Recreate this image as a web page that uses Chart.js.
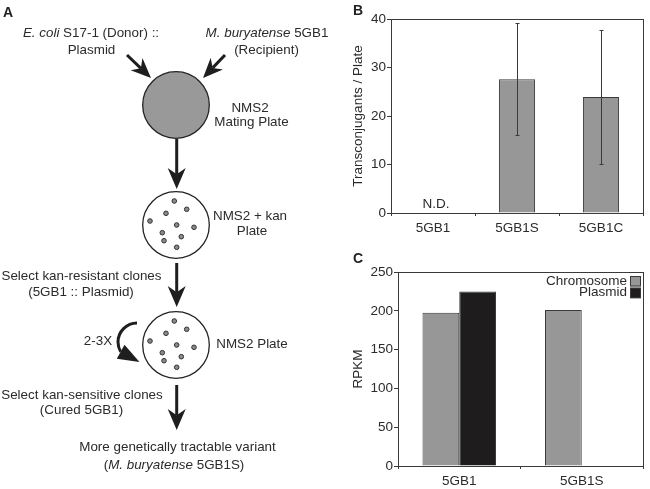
<!DOCTYPE html>
<html>
<head>
<meta charset="utf-8">
<script src="https://cdn.jsdelivr.net/npm/chart.js@4/dist/chart.umd.min.js"></script>
<style>
  html, body { margin: 0; padding: 0; background: #fff; }
  #page { position: relative; width: 650px; height: 489px; overflow: hidden; }
  #page canvas { position: absolute; }
  .panel {
    position: absolute;
    font: bold 14px "Liberation Sans", Arial, sans-serif;
    line-height: 14px;
    color: #222;
  }
</style>
</head>
<body>
<div id="page">
  <canvas id="scheme" width="330" height="489" style="left:0;top:0"></canvas>
  <canvas id="chartB" width="320" height="240" style="left:330px;top:0"></canvas>
  <canvas id="chartC" width="320" height="244" style="left:330px;top:245px"></canvas>
  <div class="panel" style="left:3px;top:5px">A</div>
  <div class="panel" style="left:353px;top:3px">B</div>
  <div class="panel" style="left:353px;top:251px">C</div>
</div>

<script>
// ------------------------------------------------------------
// Données
// ------------------------------------------------------------
// B : transconjugants par boîte
const bCategories = ['5GB1', '5GB1S', '5GB1C'];
const bMeans      = [null, 27.6, 23.9];   // 5GB1 : non détecté
const bErrors     = [null, 11.6, 13.8];
const bNotes      = ['N.D.', '', ''];
const bTicks      = [0, 10, 20, 30, 40];

// C : RPKM chromosome / plasmide
const cCategories = ['5GB1', '5GB1S'];
const cChromosome = [197.5, 201];
const cPlasmid    = [225, 0];
const cTicks      = [0, 50, 100, 150, 200, 250];

const INK  = '#2b2b2b';
const LINE = '#3a3a3a';
const FAMILY = '"Liberation Sans", Arial, sans-serif';

Chart.defaults.font.family = FAMILY;
Chart.defaults.font.size   = 13.5;
Chart.defaults.color       = INK;

// ------------------------------------------------------------
// Plugins communs
// ------------------------------------------------------------
const framePlugin = {
  id: 'frame',
  afterDraw(chart) {
    const { ctx, chartArea: a } = chart;
    ctx.save();
    ctx.strokeStyle = LINE;
    ctx.lineWidth = 1;
    ctx.strokeRect(Math.round(a.left) + 0.5, Math.round(a.top) + 0.5,
      Math.round(a.right - a.left), Math.round(a.bottom - a.top));
    ctx.restore();
  },
};

const errorBarPlugin = {
  id: 'errorBars',
  afterDatasetsDraw(chart) {
    const ctx  = chart.ctx;
    const y    = chart.scales.y;
    const meta = chart.getDatasetMeta(0);
    ctx.save();
    ctx.strokeStyle = LINE;
    ctx.lineWidth = 1;
    meta.data.forEach((bar, i) => {
      if (bMeans[i] == null) return;
      const top = Math.round(y.getPixelForValue(bMeans[i] + bErrors[i])) + 0.5;
      const bot = Math.round(y.getPixelForValue(bMeans[i] - bErrors[i])) + 0.5;
      const x   = Math.round(bar.x) + 0.5;
      ctx.beginPath();
      ctx.moveTo(x, top); ctx.lineTo(x, bot);
      ctx.moveTo(x - 2, top); ctx.lineTo(x + 2, top);
      ctx.moveTo(x - 2, bot); ctx.lineTo(x + 2, bot);
      ctx.stroke();
    });
    ctx.restore();
  },
};

const notesPlugin = {
  id: 'notes',
  afterDatasetsDraw(chart) {
    const ctx = chart.ctx;
    const x = chart.scales.x;
    const y = chart.scales.y;
    ctx.save();
    ctx.font = '13.5px ' + FAMILY;
    ctx.fillStyle = INK;
    ctx.textAlign = 'center';
    ctx.textBaseline = 'alphabetic';
    bNotes.forEach((txt, i) => {
      if (!txt) return;
      ctx.fillText(txt, x.getPixelForValue(i) + 3, y.getPixelForValue(0) - 5);
    });
    ctx.restore();
  },
};

// Légende dans le cadre, texte à gauche de la case
const insideLegendPlugin = {
  id: 'insideLegend',
  afterDraw(chart) {
    const { ctx, chartArea: a } = chart;
    ctx.save();
    ctx.font = '13.5px ' + FAMILY;
    ctx.textAlign = 'right';
    ctx.textBaseline = 'middle';
    chart.data.datasets.forEach((ds, i) => {
      const bx = Math.round(a.right) - 13;
      const by = Math.round(a.top) + 4 + i * 11.7;
      ctx.fillStyle = ds.backgroundColor;
      ctx.fillRect(bx, by, 11, 10.5);
      ctx.strokeStyle = LINE;
      ctx.lineWidth = 1;
      ctx.strokeRect(bx + 0.5, by + 0.5, 10, 9.5);
      ctx.fillStyle = INK;
      ctx.fillText(ds.label, bx - 3, by + 5);
    });
    ctx.restore();
  },
};

function yScale(ticks, title, width) {
  return {
    min: ticks[0],
    max: ticks[ticks.length - 1],
    afterBuildTicks: (s) => { s.ticks = ticks.map((v) => ({ value: v })); },
    afterFit: (s) => { s.width = width; },
    border: { display: false },
    grid: { drawOnChartArea: false, tickLength: 4, color: LINE },
    ticks: { padding: 1, color: INK },
    title: { display: true, text: title, color: INK, font: { size: 13.5 }, padding: { top: 4, bottom: 2 } },
  };
}

function xScale(height) {
  return {
    afterFit: (s) => { s.height = height; },
    border: { display: false },
    grid: { drawOnChartArea: false, tickLength: 3, color: LINE, offset: true },
    ticks: { padding: 4, color: INK },
  };
}

// ------------------------------------------------------------
// B
// ------------------------------------------------------------
new Chart(document.getElementById('chartB'), {
  type: 'bar',
  data: {
    labels: bCategories,
    datasets: [{
      label: 'Transconjugants / Plate',
      data: bMeans,
      backgroundColor: '#979797',
      borderColor: LINE,
      borderWidth: 1,
      categoryPercentage: 1,
      barPercentage: 0.43,
    }],
  },
  options: {
    responsive: false,
    animation: false,
    layout: { padding: { left: 16, right: 7, top: 19, bottom: 0 } },
    plugins: { legend: { display: false }, tooltip: { enabled: false } },
    scales: {
      x: xScale(27),
      y: yScale(bTicks, 'Transconjugants / Plate', 45),
    },
  },
  plugins: [framePlugin, errorBarPlugin, notesPlugin],
});

// ------------------------------------------------------------
// C
// ------------------------------------------------------------
new Chart(document.getElementById('chartC'), {
  type: 'bar',
  data: {
    labels: cCategories,
    datasets: [
      {
        label: 'Chromosome',
        data: cChromosome,
        backgroundColor: '#979797',
        borderColor: LINE,
        borderWidth: 1,
        categoryPercentage: 0.6,
        barPercentage: 1,
      },
      {
        label: 'Plasmid',
        data: cPlasmid,
        backgroundColor: '#1f1c1d',
        borderColor: LINE,
        borderWidth: 1,
        categoryPercentage: 0.6,
        barPercentage: 1,
      },
    ],
  },
  options: {
    responsive: false,
    animation: false,
    layout: { padding: { left: 16, right: 7, top: 27, bottom: 0 } },
    plugins: { legend: { display: false }, tooltip: { enabled: false } },
    scales: {
      x: xScale(23),
      y: yScale(cTicks, 'RPKM', 52),
    },
  },
  plugins: [framePlugin, insideLegendPlugin],
});

// ------------------------------------------------------------
// A : schéma (canvas simple)
// ------------------------------------------------------------
(function drawScheme() {
  const ctx   = document.getElementById('scheme').getContext('2d');
  const FONT  = '13.4px ' + FAMILY;
  const IFONT = 'italic 13.4px ' + FAMILY;

  function text(parts, cx, cy) {
    if (typeof parts === 'string') parts = [[parts, false]];
    let w = 0;
    parts.forEach((p) => { ctx.font = p[1] ? IFONT : FONT; w += ctx.measureText(p[0]).width; });
    let x = cx - w / 2;
    ctx.textAlign = 'left';
    ctx.textBaseline = 'middle';
    ctx.fillStyle = INK;
    parts.forEach((p) => {
      ctx.font = p[1] ? IFONT : FONT;
      ctx.fillText(p[0], x, cy);
      x += ctx.measureText(p[0]).width;
    });
  }

  function arrow(x1, y1, x2, y2, len, half) {
    const d  = Math.hypot(x2 - x1, y2 - y1);
    const ux = (x2 - x1) / d, uy = (y2 - y1) / d;
    const nx = -uy, ny = ux;
    const bx = x2 - ux * len, by = y2 - uy * len;
    const kx = x2 - ux * len * 0.7, ky = y2 - uy * len * 0.7;
    ctx.strokeStyle = '#1e1e1e';
    ctx.fillStyle = '#1e1e1e';
    ctx.lineWidth = 3;
    ctx.beginPath();
    ctx.moveTo(x1, y1);
    ctx.lineTo(kx, ky);
    ctx.stroke();
    ctx.beginPath();
    ctx.moveTo(x2, y2);
    ctx.lineTo(bx + nx * half, by + ny * half);
    ctx.lineTo(kx, ky);
    ctx.lineTo(bx - nx * half, by - ny * half);
    ctx.closePath();
    ctx.fill();
  }

  const dots = [[-1.7, -24], [-10, -11.7], [10.7, -15.7], [-26, -4], [0.7, 0],
    [18, 2.3], [-13.7, 7.7], [5.3, 11.7], [-12, 15.7], [0.7, 22.3]];

  function plate(cx, cy, r, fill, withDots) {
    ctx.beginPath();
    ctx.arc(cx, cy, r, 0, Math.PI * 2);
    ctx.fillStyle = fill;
    ctx.fill();
    ctx.lineWidth = 1.3;
    ctx.strokeStyle = '#222';
    ctx.stroke();
    if (!withDots) return;
    dots.forEach(([dx, dy]) => {
      ctx.beginPath();
      ctx.arc(cx + dx, cy + dy, 2.3, 0, Math.PI * 2);
      ctx.fillStyle = '#8a8a8a';
      ctx.fill();
      ctx.lineWidth = 1;
      ctx.strokeStyle = '#333';
      ctx.stroke();
    });
  }

  // Entrées
  text([['E. coli', true], [' S17-1 (Donor) ::', false]], 91, 33);
  text('Plasmid', 91.5, 50);
  text([['M. buryatense', true], [' 5GB1', false]], 267, 33);
  text('(Recipient)', 266.5, 50);
  arrow(127, 55, 151, 78, 20, 8.5);
  arrow(225, 55, 203, 78, 20, 8.5);

  // Boîte de conjugaison
  plate(176, 105, 33.3, '#999999', false);
  text('NMS2', 250, 108);
  text('Mating Plate', 251.5, 122);
  arrow(176.7, 139, 176.7, 189, 21, 9);

  // NMS2 + kan
  plate(176, 225, 33.3, '#ffffff', true);
  text('NMS2 + kan', 250, 216);
  text('Plate', 252, 231);
  arrow(176.7, 263, 176.7, 307, 21, 9);
  text('Select kan-resistant clones', 81.5, 276);
  text('(5GB1 :: Plasmid)', 81, 292);

  // NMS2 (repiquage 2-3X)
  plate(176, 345, 33.3, '#ffffff', true);
  text('NMS2 Plate', 252, 344.5);
  text('2-3X', 98, 341);
  ctx.beginPath();
  ctx.lineWidth = 3;
  ctx.strokeStyle = '#1e1e1e';
  ctx.arc(137, 342, 19, -Math.PI * 0.5, Math.PI * 0.83, true);
  ctx.stroke();
  (function () {
    const a  = Math.PI * 0.83;
    const sx = 137 + 19 * Math.cos(a), sy = 342 + 19 * Math.sin(a);
    const tx = 139.5, ty = 362;
    const d  = Math.hypot(tx - sx, ty - sy);
    const nx = -(ty - sy) / d, ny = (tx - sx) / d;
    ctx.fillStyle = '#1e1e1e';
    ctx.beginPath();
    ctx.moveTo(tx, ty);
    ctx.lineTo(sx + nx * 8, sy + ny * 8);
    ctx.lineTo(sx - nx * 8, sy - ny * 8);
    ctx.closePath();
    ctx.fill();
  })();
  text('Select kan-sensitive clones', 82, 395);
  text('(Cured 5GB1)', 81.5, 410);
  arrow(176.7, 385, 176.7, 430, 21, 9);

  // Résultat
  text('More genetically tractable variant', 177.5, 447.5);
  text([['(', false], ['M. buryatense', true], [' 5GB1S)', false]], 174, 465);
})();
</script>
</body>
</html>
